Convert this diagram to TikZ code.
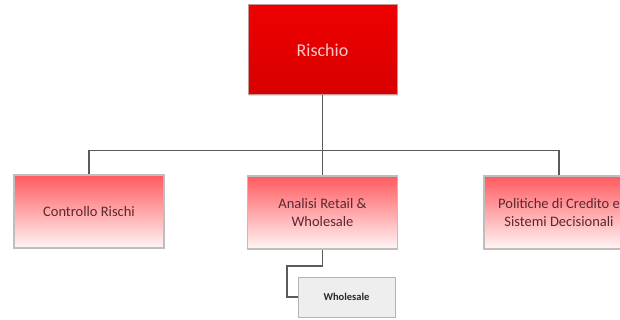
\documentclass[tikz,border=0pt]{standalone}
\usepackage{fontspec}
\setmainfont{Carlito}
\usetikzlibrary{shadows}
\definecolor{txt}{HTML}{5A2830}
\definecolor{linec}{HTML}{5A5A5A}
\tikzset{
  topbox/.style={draw={rgb,255:red,200;green,150;blue,150}, line width=1pt, top color={rgb,255:red,238;green,0;blue,0}, bottom color={rgb,255:red,215;green,0;blue,0}, text={rgb,255:red,255;green,200;blue,200}, font=\fontsize{18}{20}\selectfont, minimum width=149pt, minimum height=90pt, inner sep=0pt, drop shadow={opacity=0.25, shadow xshift=1pt, shadow yshift=-1pt}},
  childbox/.style={draw={rgb,255:red,190;green,190;blue,190}, line width=1.5pt, top color={rgb,255:red,255;green,90;blue,95}, bottom color={rgb,255:red,255;green,245;blue,245}, text=txt, font=\fontsize{14.5}{18}\selectfont, align=center, minimum width=150pt, minimum height=73pt, inner sep=0pt},
  leafbox/.style={draw={rgb,255:red,180;green,180;blue,180}, line width=1pt, fill={rgb,255:red,238;green,238;blue,238}, text={rgb,255:red,40;green,40;blue,40}, font=\fontsize{10.5}{12}\selectfont\bfseries, minimum width=97pt, minimum height=40pt, inner sep=0pt},
  conn/.style={draw=linec, line width=1.2pt}
}
\begin{document}
\begin{tikzpicture}[x=1pt,y=-1pt]
\useasboundingbox (0,0) rectangle (620,320);
\begin{scope}
\clip (0,0) rectangle (620,320);
\node[topbox] (root) at (322.5,50) {Rischio};
\node[childbox] (c1) at (89,211.5) {Controllo Rischi};
\node[childbox] (c2) at (322.5,212.5) {Analisi Retail \&\\Wholesale};
\node[childbox] (c3) at (559,212.5) {Politiche di Credito e\\Sistemi Decisionali};
\node[leafbox] (l1) at (346.5,297) {Wholesale};
\coordinate (j1) at (322.5,266);
\coordinate (j2) at (287,266);
\draw[conn] (root.south) -- ++(0,55) -| (c1.north);
\draw[conn] (root.south) -- ++(0,55) -| (c3.north);
\draw[conn] (root.south) -- (c2.north);
\draw[conn] (c2.south) -- (j1) -- (j2) |- (l1.west);
\end{scope}
\end{tikzpicture}
\end{document}
